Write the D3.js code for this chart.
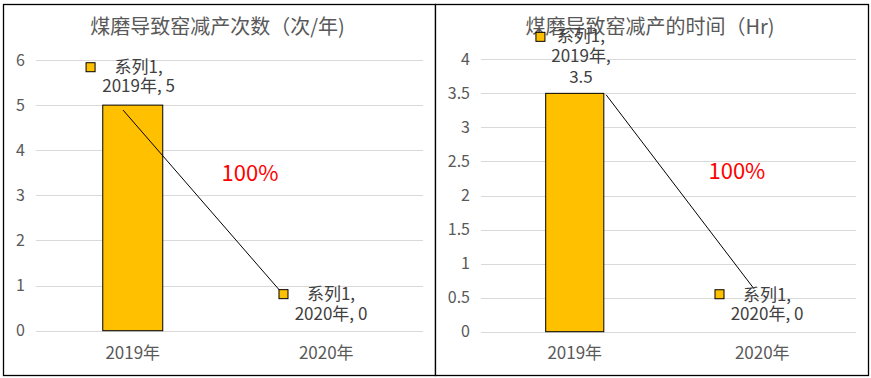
<!DOCTYPE html>
<html><head><meta charset="utf-8">
<script src="https://cdn.jsdelivr.net/npm/d3@7"></script>
<style>
html,body{margin:0;padding:0;background:#fff;}
svg text{font-family:"Microsoft YaHei","Noto Sans CJK SC","Noto Sans",sans-serif;}
</style></head>
<body>
<svg id="c" width="871" height="378"></svg>
<script>
// ---- data ----
const categories = ["2019年", "2020年"];
const seriesName = "系列1";
const leftTitle = "煤磨导致窑减产次数（次/年)";
const leftValues = [5, 0];
const leftTicks = [0, 1, 2, 3, 4, 5, 6];
const leftTickLabels = ["0", "1", "2", "3", "4", "5", "6"];
const rightTitle = "煤磨导致窑减产的时间（Hr)";
const rightValues = [3.5, 0];
const rightTicks = [0, 0.5, 1, 1.5, 2, 2.5, 3, 3.5, 4];
const rightTickLabels = ["0", "0.5", "1", "1.5", "2", "2.5", "3", "3.5", "4"];
const changeLabel = "100%";
// leader line (category index, value) endpoints
const leftLeader = [[-0.05, 4.89], [0.766, 0.86]];
const rightLeader = [[0.167, 3.48], [0.956, 0.63]];
// data label anchor (category index, value) for each point
const leftLabelAnchors = [[-0.218, 5.84], [0.779, 0.81]];
const rightLabelAnchors = [[-0.183, 4.33], [0.772, 0.55]];
const leftLabelLines = [["系列1,", "2019年, 5"], ["系列1,", "2020年, 0"]];
const rightLabelLines = [["系列1,", "2019年,", "3.5"], ["系列1,", "2020年, 0"]];
const leftPctAnchor = [0.606, 3.5];
const rightPctAnchor = [0.865, 2.36];

const svg = d3.select("#c");

function panel(o) {
  const g = svg.append("g");
  g.append("rect").attr("x", o.bx0).attr("y", 4.5).attr("width", o.bx1 - o.bx0).attr("height", 371)
    .attr("fill", "#fff").attr("stroke", "#000").attr("stroke-width", 1.3);
  const x = d3.scaleBand().domain(categories).range([o.px0, o.px1]);
  const xi = d3.scaleLinear().domain([0, 1]).range([o.px0 + x.bandwidth() / 2, o.px0 + x.bandwidth() * 1.5]);
  const y = d3.scaleLinear().domain([0, o.ymax]).range([o.py0, o.py1]);

  // title
  g.append("text").attr("x", (o.bx0 + o.bx1) / 2 - 2).attr("y", 34).attr("text-anchor", "middle")
    .attr("font-size", 20).attr("fill", "#595959").text(o.title);

  // grid
  g.selectAll("line.grid").data(o.ticks).join("line")
    .attr("x1", o.px0).attr("x2", o.px1)
    .attr("y1", d => Math.round(y(d)) + 0.5).attr("y2", d => Math.round(y(d)) + 0.5)
    .attr("stroke", "#d9d9d9").attr("stroke-width", 1);
  // y labels
  g.selectAll("text.yt").data(o.ticks).join("text")
    .attr("x", o.px0 - 11).attr("y", d => y(d)).attr("dy", "0.36em")
    .attr("text-anchor", "end").attr("font-size", 16).attr("fill", "#595959")
    .text((d, i) => o.tickLabels[i]);
  // x labels
  g.selectAll("text.xt").data(categories).join("text")
    .attr("x", d => x(d) + x.bandwidth() / 2).attr("y", 359)
    .attr("text-anchor", "middle").attr("font-size", 17).attr("fill", "#595959")
    .text(d => d);
  // bars
  const bw = x.bandwidth() * 0.31;
  g.selectAll("rect.bar").data(o.values).join("rect")
    .attr("x", (d, i) => x(categories[i]) + x.bandwidth() / 2 - bw / 2)
    .attr("y", d => y(d)).attr("width", bw).attr("height", d => y(0) - y(d))
    .attr("fill", "#ffc000").attr("stroke", "#000").attr("stroke-width", 1)
    .attr("display", d => d > 0 ? null : "none");
  // leader line
  g.append("line")
    .attr("x1", xi(o.leader[0][0])).attr("y1", y(o.leader[0][1]))
    .attr("x2", xi(o.leader[1][0])).attr("y2", y(o.leader[1][1]))
    .attr("stroke", "#000").attr("stroke-width", 1);
  // data labels
  o.anchors.forEach((a, k) => {
    const cx = xi(a[0]), cy = y(a[1]);
    g.append("rect").attr("x", cx - 4.5).attr("y", cy - 4.5).attr("width", 9).attr("height", 9)
      .attr("fill", "#ffc000").attr("stroke", "#000").attr("stroke-width", 1);
    const lines = o.labelLines[k];
    lines.forEach((t, j) => {
      g.append("text").attr("x", cx + o.textDx[k]).attr("y", cy + o.textDy[k] + j * o.lineH[k])
        .attr("text-anchor", "middle").attr("font-size", 17).attr("fill", "#404040").text(t);
    });
  });
  // percent
  g.append("text").attr("x", xi(o.pct[0])).attr("y", y(o.pct[1])).attr("dy", "0.36em")
    .attr("text-anchor", "middle").attr("font-size", 22).attr("fill", "#ff0000").text(changeLabel);
}

panel({bx0: 3.5, bx1: 435.5, px0: 36, px1: 423, py0: 330.7, py1: 60, ymax: 6,
  title: leftTitle, values: leftValues, ticks: leftTicks, tickLabels: leftTickLabels,
  leader: leftLeader, anchors: leftLabelAnchors, labelLines: leftLabelLines,
  textDx: [48, 47.5], textDy: [5.5, 6], lineH: [19.5, 19.5], pct: leftPctAnchor});
panel({bx0: 435.5, bx1: 868.5, px0: 481, px1: 856, py0: 331.7, py1: 59.3, ymax: 4,
  title: rightTitle, values: rightValues, ticks: rightTicks, tickLabels: rightTickLabels,
  leader: rightLeader, anchors: rightLabelAnchors, labelLines: rightLabelLines,
  textDx: [40.5, 47.5], textDy: [5, 6.5], lineH: [20.5, 19.5], pct: rightPctAnchor});
</script>
</body></html>
